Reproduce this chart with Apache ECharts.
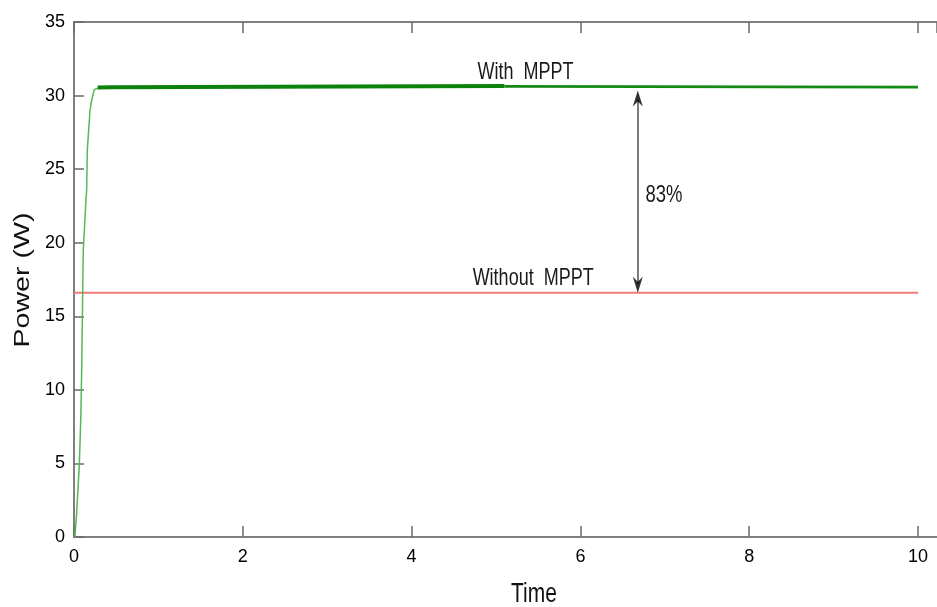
<!DOCTYPE html>
<html>
<head>
<meta charset="utf-8">
<title>Power vs Time</title>
<script src="https://cdn.jsdelivr.net/npm/echarts@6/dist/echarts.min.js"></script>
<style>
  html, body { margin: 0; padding: 0; background: #ffffff; }
  #chart { width: 937px; height: 607px; }
</style>
</head>
<body>
<div id="chart"></div>
<script>
// Start-up transient of the PV output under MPPT control (time, power in W)
const riseTime  = [0.01, 0.03, 0.063, 0.08, 0.091, 0.103, 0.11, 0.142, 0.15, 0.158, 0.174, 0.19, 0.21, 0.24, 0.28];
const risePower = [0, 1.5, 4.9, 8.0, 11.3, 16.6, 19.5, 22.9, 23.6, 26.3, 27.7, 29.0, 29.7, 30.4, 30.5];

// Settled MPPT output: rippling band, then steady tail
const rippleTime  = [0.28, 0.45, 0.47, 5.1];
const ripplePower = [30.55, 30.57, 30.65, 30.65];
const steadyTime  = [5.1, 10];
const steadyPower = [30.62, 30.58];

// Output without MPPT
const fixedTime  = [0, 10];
const fixedPower = [16.6, 16.6];

// Gain arrow between the two levels
const gapTime = 6.68;
const gapTop = 30.35;
const gapBottom = 16.6;

const xTicks = [0, 2, 4, 6, 8, 10];
const yTicks = [0, 5, 10, 15, 20, 25, 30, 35];

const texts = {
  withMppt: 'With  MPPT',
  withoutMppt: 'Without  MPPT',
  gain: '83%',
  xName: 'Time',
  yName: 'Power (W)'
};

function zip(a, b) { return a.map((v, i) => [v, b[i]]); }

const chart = echarts.init(document.getElementById('chart'), null, { renderer: 'canvas' });

const axisColor = '#808080';
const fontFamily = 'Liberation Sans, Arial, sans-serif';

// the time axis runs a little past 10, to the right edge of the canvas
const xBase = {
  type: 'value',
  min: 0,
  max: 10.225,
  interval: 2,
  axisLine: { show: true, onZero: false, lineStyle: { color: axisColor, width: 2 } },
  axisTick: { show: true, inside: true, length: 11, lineStyle: { color: '#6a6a6a', width: 1.5 } },
  splitLine: { show: false }
};

chart.setOption({
  animation: false,
  backgroundColor: '#ffffff',
  grid: { left: 74, top: 22, right: 0, bottom: 70, containLabel: false },
  xAxis: [
    Object.assign({}, xBase, {
      position: 'bottom',
      axisLabel: {
        show: true, margin: 11, color: '#000', fontSize: 18, fontFamily: fontFamily,
        showMaxLabel: false,
        formatter: v => (xTicks.indexOf(v) >= 0 ? String(v) : '')
      }
    }),
    Object.assign({}, xBase, { position: 'top', axisLabel: { show: false } })
  ],
  yAxis: [{
    type: 'value',
    position: 'left',
    min: 0,
    max: 35,
    interval: 5,
    axisLine: { show: true, onZero: false, lineStyle: { color: axisColor, width: 2 } },
    axisTick: { show: true, inside: true, length: 10, lineStyle: { color: '#6a6a6a', width: 1.5 } },
    splitLine: { show: false },
    axisLabel: {
      show: true, margin: 9, color: '#000', fontSize: 18, fontFamily: fontFamily,
      formatter: v => (yTicks.indexOf(v) >= 0 ? String(v) : '')
    }
  }],
  series: [
    {
      name: 'Without MPPT',
      type: 'line',
      data: zip(fixedTime, fixedPower),
      showSymbol: false,
      lineStyle: { color: '#f07a7a', width: 2 },
      z: 2
    },
    {
      name: 'With MPPT rise',
      type: 'line',
      data: zip(riseTime, risePower),
      showSymbol: false,
      lineStyle: { color: '#55b855', width: 1.5 },
      z: 3
    },
    {
      name: 'With MPPT ripple',
      type: 'line',
      data: zip(rippleTime, ripplePower),
      showSymbol: false,
      lineStyle: { color: '#0c820c', width: 4 },
      z: 3
    },
    {
      name: 'With MPPT steady',
      type: 'line',
      data: zip(steadyTime, steadyPower),
      showSymbol: false,
      lineStyle: { color: '#148a14', width: 2.8 },
      z: 3
    },
    {
      name: 'Gain shaft',
      type: 'line',
      data: [],
      markLine: {
        silent: true,
        symbol: ['none', 'none'],
        label: { show: false },
        lineStyle: { color: '#7a7a7a', width: 2, type: 'solid' },
        data: [[{ coord: [gapTime, gapTop - 0.6] }, { coord: [gapTime, gapBottom + 0.6] }]]
      },
      z: 4
    },
    {
      name: 'Gain heads',
      type: 'scatter',
      symbol: 'path://M0,0 L5,16 L0,11 L-5,16 Z',
      symbolSize: [10, 16],
      itemStyle: { color: '#000000' },
      data: [
        { value: [gapTime, gapTop], symbolRotate: 0, symbolOffset: [0, 8] },
        { value: [gapTime, gapBottom], symbolRotate: 180, symbolOffset: [0, -8] }
      ],
      z: 5
    }
  ]
});

// Stretched annotation and axis-title text, placed through the grid's coordinate system
function place() {
  const toPx = (t, p) => chart.convertToPixel({ gridIndex: 0 }, [t, p]);
  const withPos = toPx(5.35, 31.55);
  const withoutPos = toPx(5.44, 17.55);
  const gainPos = toPx(6.99, 23.25);
  const gridBottom = toPx(5.36, 0);
  const note = (pos, text, size) => ({
    type: 'text',
    x: pos[0], y: pos[1],
    scaleY: 1.3,
    style: {
      text: text, fill: '#1a1a1a', font: size + 'px ' + fontFamily,
      align: 'center', verticalAlign: 'middle'
    },
    z: 10
  });
  chart.setOption({
    graphic: [
      note(withPos, texts.withMppt, 18),
      note(withoutPos, texts.withoutMppt, 18),
      note(gainPos, texts.gain, 18.5),
      {
        type: 'text',
        x: 534, y: gridBottom[1] + 57,
        scaleY: 1.3,
        style: { text: texts.xName, fill: '#111', font: '21px ' + fontFamily, align: 'center', verticalAlign: 'middle' },
        z: 10
      },
      {
        type: 'text',
        x: 23, y: 280,
        rotation: Math.PI / 2,
        scaleX: 1.3,
        style: { text: texts.yName, fill: '#111', font: '22px ' + fontFamily, align: 'center', verticalAlign: 'middle' },
        z: 10
      }
    ]
  });
}
place();
</script>
</body>
</html>
